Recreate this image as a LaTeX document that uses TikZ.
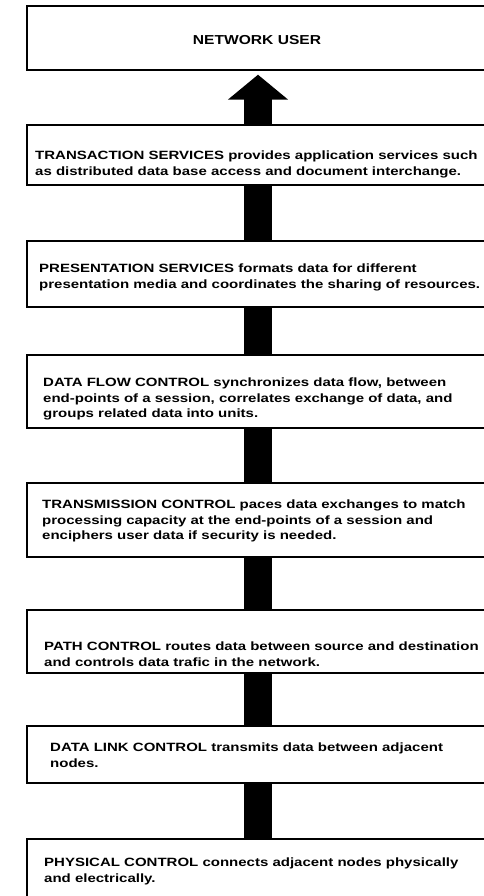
\documentclass[tikz,border=0pt]{standalone}
\usepackage{fontspec}
\setmainfont{Liberation Sans}
\newfontfamily\bodyfont{Liberation Sans}[FakeStretch=1.25]
\newfontfamily\headfont{Liberation Sans}[FakeStretch=1.2]
\usetikzlibrary{arrows.meta,calc}
\tikzset{
  layer/.style={draw=black, line width=1.7pt, fill=white, rectangle, inner sep=0pt, anchor=north west, minimum width=500pt},
  desc/.style={anchor=north west, align=left, inner sep=0pt, font=\bodyfont\bfseries\fontsize{12}{15.3}\selectfont},
  bar/.style={line width=28pt, draw=black},
  bigarrow/.style={line width=28pt, draw=black, -{Triangle[width=59pt,length=25pt]}}
}
\begin{document}
\begin{tikzpicture}[x=1pt,y=-1pt]
\useasboundingbox (0,0) rectangle (484,896);
\clip (0,0) rectangle (484,896);
\coordinate (shaft) at (258,0);
% boxes
\node[layer, minimum height=64pt] (user) at (26,5) {};
\node[layer, minimum height=60pt] (trans) at (26,124) {};
\node[layer, minimum height=66pt] (pres) at (26,240) {};
\node[layer, minimum height=73pt] (flow) at (26,354) {};
\node[layer, minimum height=74pt] (tctl) at (26,482) {};
\node[layer, minimum height=63pt] (path) at (26,609) {};
\node[layer, minimum height=57pt] (link) at (26,725) {};
\node[layer, minimum height=80pt] (phys) at (26,838) {};
% connectors
\coordinate (tip) at ($(user.south -| shaft)+(0,4)$);
\draw[bigarrow] (trans.north -| shaft) -- (tip);
\draw[bar] (pres.north -| shaft) -- (trans.south -| shaft);
\draw[bar] (flow.north -| shaft) -- (pres.south -| shaft);
\draw[bar] (tctl.north -| shaft) -- (flow.south -| shaft);
\draw[bar] (path.north -| shaft) -- (tctl.south -| shaft);
\draw[bar] (link.north -| shaft) -- (path.south -| shaft);
\draw[bar] (phys.north -| shaft) -- (link.south -| shaft);
% texts
\node[font=\headfont\bfseries\fontsize{13}{15}\selectfont, anchor=base] (tuser) at (257,45) {NETWORK USER};
\node[desc] (ttrans) at (35,151) {TRANSACTION SERVICES provides application services such\\as distributed data base access and document interchange.};
\node[desc] (tpres) at (39,264) {PRESENTATION SERVICES formats data for different\\presentation media and coordinates the sharing of resources.};
\node[desc] (tflow) at (43,378) {DATA FLOW CONTROL synchronizes data flow, between\\end-points of a session, correlates exchange of data, and\\groups related data into units.};
\node[desc] (ttctl) at (42,500) {TRANSMISSION CONTROL paces data exchanges to match\\processing capacity at the end-points of a session and\\enciphers user data if security is needed.};
\node[desc] (tpath) at (44,642) {PATH CONTROL routes data between source and destination\\and controls data trafic in the network.};
\node[desc] (tlink) at (50,743) {DATA LINK CONTROL transmits data between adjacent\\nodes.};
\node[desc] (tphys) at (44,858) {PHYSICAL CONTROL connects adjacent nodes physically\\and electrically.};
\end{tikzpicture}
\end{document}
